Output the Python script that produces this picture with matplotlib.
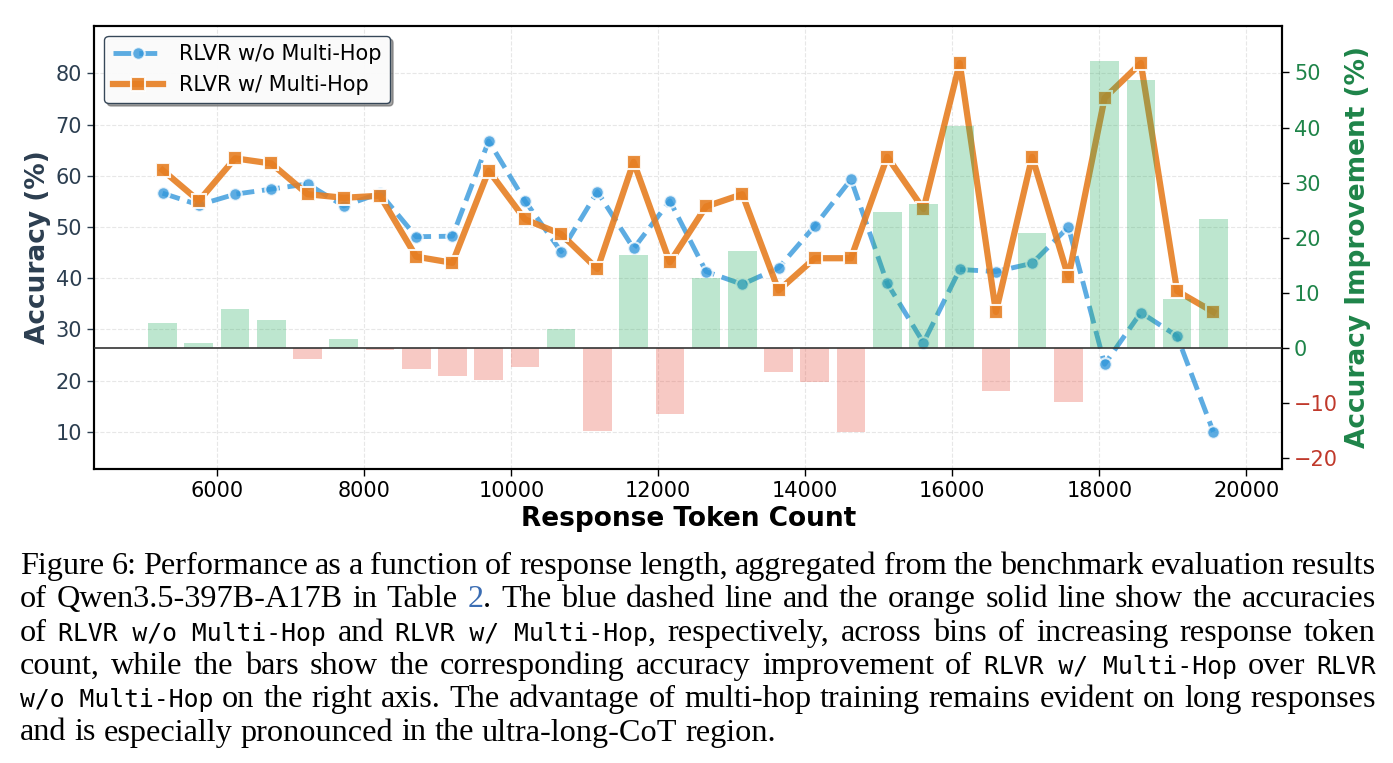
import re
import matplotlib
matplotlib.use('Agg')
import numpy as np
import matplotlib.pyplot as plt
from matplotlib import rcParams

rcParams.update({
    'font.size': 15,
    'xtick.labelsize': 15,
    'ytick.labelsize': 15,
    'axes.linewidth': 1.5,
})

# bin centres of response token count
token_bins = [5255, 5748, 6241, 6734, 7227, 7720, 8213, 8706, 9199, 9692,
              10185, 10678, 11171, 11664, 12157, 12650, 13143, 13636, 14129, 14622,
              15115, 15608, 16101, 16594, 17087, 17580, 18073, 18566, 19059, 19552]

# accuracy (%) per bin
acc_wo = [56.6, 54.3, 56.4, 57.4, 58.4, 54.1, 56.6, 48.1, 48.2, 66.8,
          55.1, 45.2, 56.9, 45.8, 55.1, 41.3, 38.8, 42.0, 50.2, 59.3,
          39.0, 27.4, 41.7, 41.3, 42.9, 50.0, 23.2, 33.3, 28.7, 10.0]
acc_w = [61.1, 55.1, 63.4, 62.4, 56.4, 55.7, 56.1, 44.2, 43.0, 61.0,
         51.5, 48.6, 41.8, 62.7, 43.1, 54.0, 56.4, 37.6, 43.9, 43.9,
         63.7, 53.5, 82.0, 33.4, 63.7, 40.2, 75.2, 82.0, 37.5, 33.4]

series_names = ["RLVR w/o Multi-Hop", "RLVR w/ Multi-Hop"]

caption_lines = [
    "Figure 6: Performance as a function of response length, aggregated from the benchmark evaluation results",
    "of Qwen3.5-397B-A17B in Table ^2^. The blue dashed line and the orange solid line show the accuracies",
    "of `RLVR w/o Multi-Hop` and `RLVR w/ Multi-Hop`, respectively, across bins of increasing response token",
    "count, while the bars show the corresponding accuracy improvement of `RLVR w/ Multi-Hop` over `RLVR`",
    "`w/o Multi-Hop` on the right axis. The advantage of multi-hop training remains evident on long responses",
    "and is especially pronounced in the ultra-long-CoT region.",
]

W, H = 1393.0, 763.0
fig = plt.figure(figsize=(W / 100, H / 100), dpi=100)
ax = fig.add_axes([0.0675, 0.3857, 0.853, 0.5806])
ax2 = ax.twinx()

improvement = np.array(acc_w) - np.array(acc_wo)
bar_colors = ['#27ae60' if v >= 0 else '#e74c3c' for v in improvement]

ax.plot(token_bins, acc_wo, linestyle='--', color='#3498db', lw=3.5, marker='o',
        ms=9, mec='white', mew=1.5, alpha=0.8, label=series_names[0], zorder=3)
ax.plot(token_bins, acc_w, linestyle='-', color='#e67e22', lw=4.5, marker='s',
        ms=10, mec='white', mew=1.5, alpha=0.9, label=series_names[1], zorder=4)

ax2.bar(token_bins, improvement, width=390, color=bar_colors, alpha=0.3, zorder=2)
ax2.axhline(0, color='#333333', lw=1.2, zorder=3)

ax.set_xlim(4322, 20490)
ax.set_ylim(2.8, 89.3)
ax2.set_ylim(-22.0, 58.5)
ax2.set_yticks(range(-20, 60, 10))

ax.grid(True, linestyle='--', alpha=0.3)
ax.set_axisbelow(True)

ax.set_xlabel("Response Token Count", fontsize=19, fontweight='bold', labelpad=4)
ax.set_ylabel("Accuracy (%)", fontsize=19, fontweight='bold', color='#2c3e50', labelpad=3)
ax2.set_ylabel("Accuracy Improvement (%)", fontsize=19, fontweight='bold', color='#1e8449', labelpad=5)
ax.tick_params(axis='y', colors='#2c3e50')
ax.tick_params(axis='both', length=5, width=1)
ax2.tick_params(axis='y', length=5, width=1)
for lab, v in zip(ax2.get_yticklabels(), ax2.get_yticks()):
    lab.set_color('#c0392b' if v < 0 else '#1e8449')

leg = ax.legend(loc='upper left', fontsize=15, fancybox=True, shadow=True,
                framealpha=0.95, edgecolor='#2c3e50', handlelength=2.4)
leg.get_frame().set_linewidth(1.0)

# caption, set word by word and justified
renderer = fig.canvas.get_renderer()
x_left, x_right = 20, 1376
serif = dict(family='Liberation Serif', size=23.2)
for i, line in enumerate(caption_lines):
    y = 1 - (574 + i * 33.3) / H
    words = []
    for tok in re.findall(r'(?:`[^`]*`|[^ `])+', line):
        parts = []
        for p in re.split(r'(`[^`]*`|\^[^^]*\^)', tok):
            if not p:
                continue
            if p[0] == '`':
                kw = dict(family='DejaVu Sans Mono', size=17.8)
                p = p[1:-1]
            elif p[0] == '^':
                kw = dict(serif, color='#3b6db3')
                p = p[1:-1]
            else:
                kw = serif
            t = fig.text(0, y, p, va='baseline', ha='left', **kw)
            parts.append((t, t.get_window_extent(renderer).width))
        words.append(parts)
    widths = [sum(w for _, w in parts) for parts in words]
    if i < len(caption_lines) - 1:
        gap = (x_right - x_left - sum(widths)) / (len(words) - 1)
    else:
        gap = 8.0
    x = x_left
    for parts in words:
        for t, w in parts:
            t.set_x(x / W)
            x += w
        x += gap

fig.savefig('out.png', dpi=100)
